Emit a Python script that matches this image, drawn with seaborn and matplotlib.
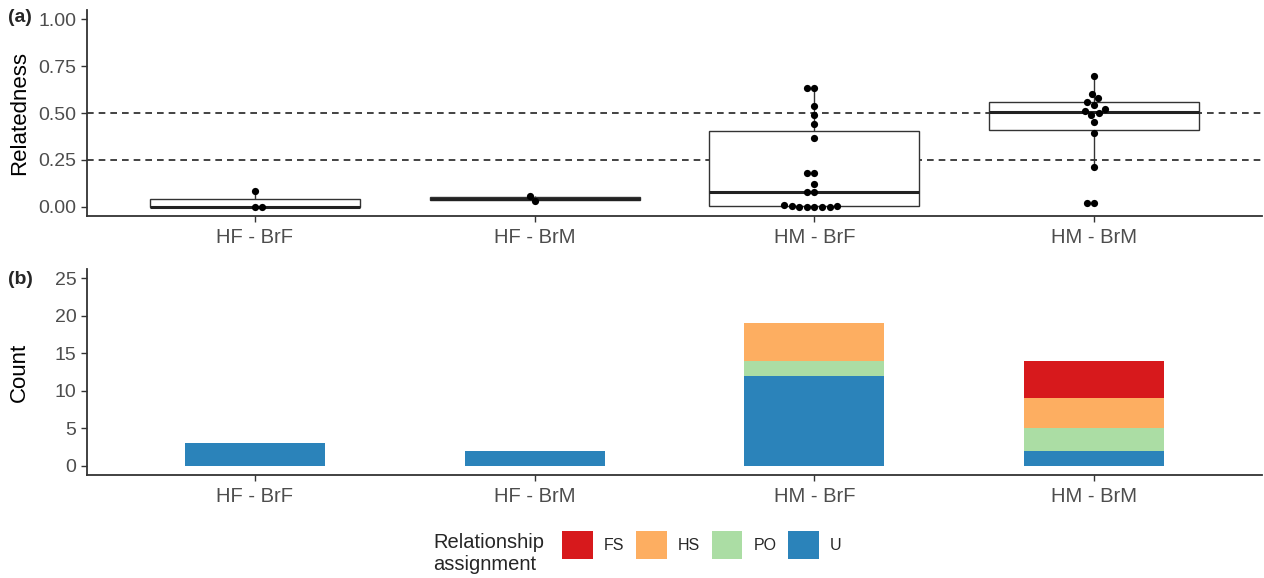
import pandas as pd
import seaborn as sns
import matplotlib.pyplot as plt
from matplotlib.patches import Patch

# panel (a) relatedness values per pair type
groups = ["HF - BrF", "HF - BrM", "HM - BrF", "HM - BrM"]
rel_hf_brf = [0.0, 0.0, 0.085]
rel_hf_brm = [0.028, 0.058]
rel_hm_brf = [0.0, 0.0, 0.0, 0.0, 0.0, 0.005, 0.005, 0.01,
              0.076, 0.078, 0.12, 0.18, 0.18, 0.365, 0.44, 0.49,
              0.537, 0.635, 0.635]
rel_hm_brm = [0.02, 0.02, 0.211, 0.395, 0.454, 0.49, 0.50, 0.51,
              0.52, 0.545, 0.56, 0.578, 0.60, 0.697]

# panel (b) counts of relationship assignment
assign = ["FS", "HS", "PO", "U"]
cnt_fs = [0, 0, 0, 5]
cnt_hs = [0, 0, 5, 4]
cnt_po = [0, 0, 2, 3]
cnt_u = [3, 2, 12, 2]
colors = {"FS": "#D7191C", "HS": "#FDAE61", "PO": "#ABDDA4", "U": "#2B83BA"}

sns.set_style("ticks")
plt.rcParams['font.family'] = ['Liberation Sans', 'DejaVu Sans']

df_rel = pd.DataFrame({
    "group": ["HF - BrF"] * len(rel_hf_brf) + ["HF - BrM"] * len(rel_hf_brm)
             + ["HM - BrF"] * len(rel_hm_brf) + ["HM - BrM"] * len(rel_hm_brm),
    "rel": rel_hf_brf + rel_hf_brm + rel_hm_brf + rel_hm_brm,
})

rows = []
for i, g in enumerate(groups):
    for a, c in zip(assign, [cnt_fs, cnt_hs, cnt_po, cnt_u]):
        rows.append({"group": g, "assign": a, "n": c[i]})
df_cnt = pd.DataFrame(rows)

W, H = 1264, 578
fig = plt.figure(figsize=(W / 100, H / 100), dpi=100)
ax1 = fig.add_axes([87 / W, 1 - 216 / H, 1175 / W, 206 / H])
ax2 = fig.add_axes([87 / W, 1 - 475 / H, 1175 / W, 206 / H])

tick_col = "#4D4D4D"

# (a) boxplot + dots
sns.boxplot(data=df_rel, x="group", y="rel", order=groups, width=0.75,
            color="white", showfliers=False, whis=1.5, linewidth=1.0,
            boxprops=dict(edgecolor="#333333", facecolor="white"),
            whiskerprops=dict(color="#333333"),
            capprops=dict(linewidth=0),
            medianprops=dict(color="#222222", linewidth=2.2),
            ax=ax1)
sns.swarmplot(data=df_rel, x="group", y="rel", order=groups, color="black",
              size=5.2, ax=ax1)
ax1.axhline(0.5, color="#222222", linestyle=(0, (4, 3)), linewidth=1.2, zorder=0.5)
ax1.axhline(0.25, color="#222222", linestyle=(0, (4, 3)), linewidth=1.2, zorder=0.5)
ax1.set_ylim(-0.05, 1.05)
ax1.set_xlim(-0.6, 3.6)
ax1.set_yticks([0, 0.25, 0.5, 0.75, 1.0])
ax1.set_yticklabels(["0.00", "0.25", "0.50", "0.75", "1.00"])
ax1.set_xlabel("")
ax1.set_ylabel("Relatedness", fontsize=16, color="black")

# (b) stacked bars
sns.histplot(data=df_cnt, x="group", weights="n", hue="assign",
             hue_order=assign, multiple="stack", shrink=0.5, discrete=True,
             palette=colors, alpha=1, linewidth=0, legend=False, ax=ax2)
ax2.set_ylim(-1.25, 26.25)
ax2.set_xlim(-0.6, 3.6)
ax2.set_yticks([0, 5, 10, 15, 20, 25])
ax2.set_xlabel("")
ax2.set_ylabel("Count", fontsize=16, color="black")

for ax in (ax1, ax2):
    sns.despine(ax=ax)
    for s in ("left", "bottom"):
        ax.spines[s].set_color("#333333")
        ax.spines[s].set_linewidth(1.3)
    ax.tick_params(axis="y", labelsize=14, colors="#333333", labelcolor=tick_col,
                   length=4, width=1)
    ax.tick_params(axis="x", labelsize=14.5, colors="#333333", labelcolor=tick_col,
                   length=4, width=1, pad=4.5)
    ax.yaxis.set_label_coords(-57 / 1175, 0.5)

fig.text(8 / W, 1 - 18 / H, "(a)", fontsize=14, fontweight="bold", va="center")
fig.text(8 / W, 1 - 280 / H, "(b)", fontsize=14, fontweight="bold", va="center")

handles = [Patch(facecolor=colors[a], edgecolor="none") for a in assign]
fig.legend(handles, assign, ncol=4, loc="center left",
           bbox_to_anchor=(551 / W, 1 - 545 / H), frameon=False,
           fontsize=11.5, handlelength=1.9, handleheight=2.3,
           handletextpad=0.7, columnspacing=0.75, borderpad=0.2)
fig.text(433 / W, 1 - 553 / H, "Relationship\nassignment", fontsize=14.5,
         va="center", ha="left", linespacing=1.2)

fig.savefig("out.png", dpi=100)
